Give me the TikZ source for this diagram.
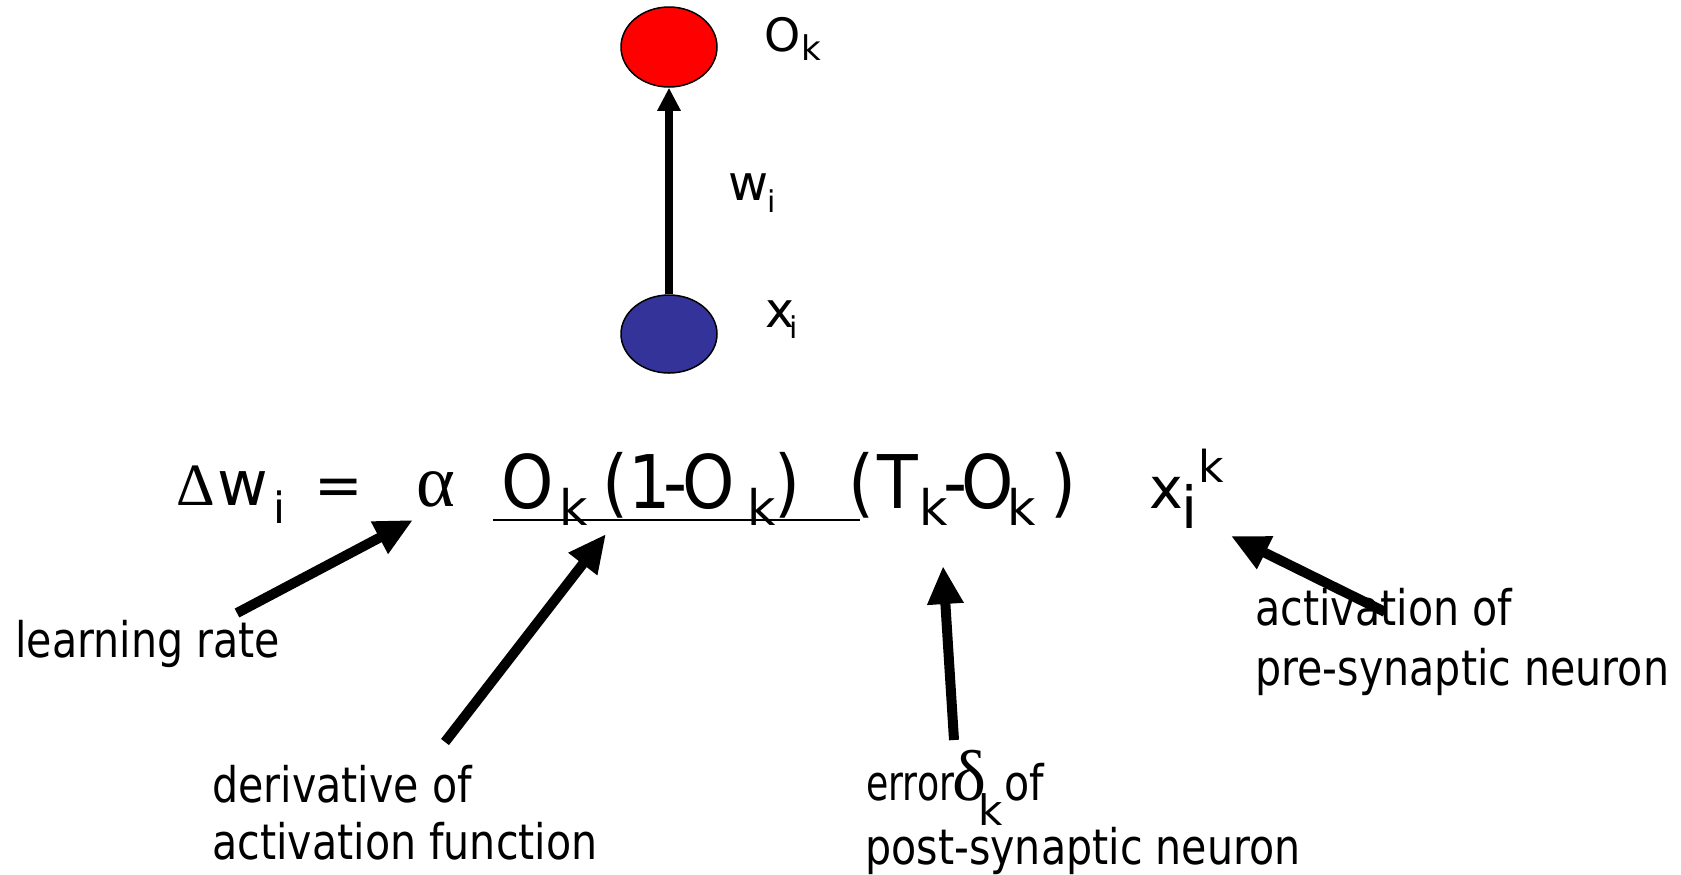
\documentclass[tikz,border=0pt]{standalone}
\usepackage{fontspec}
\setmainfont{DejaVu Sans}
\newfontfamily\lblfont{DejaVu Sans}[FakeStretch=0.84]
\newfontfamily\narrowfont{DejaVu Sans}[FakeStretch=0.74]
\newfontfamily\eqfont{DejaVu Sans}[FakeStretch=0.9]
\newfontfamily\grkfont{Liberation Serif}
\usetikzlibrary{arrows.meta,shapes.geometric}
\definecolor{nred}{HTML}{FF0000}
\definecolor{nblue}{HTML}{333399}
\begin{document}
\begin{tikzpicture}[x=0.5pt,y=-0.5pt,
  lbl/.style={inner sep=0pt, anchor=base west, font={\lblfont\fontsize{24.5}{29}\selectfont}},
  glyph/.style={inner sep=0pt, anchor=base},
  big/.style={glyph, font={\eqfont\fontsize{37}{44}\selectfont}},
  neuron/.style={ellipse, draw=black, line width=0.75pt, inner sep=0pt, minimum width=48pt},
  fat/.style={line width=5pt, -{Triangle[length=19pt,width=17pt]}},
  ds/.style={font={\fontsize{#1}{#1}\selectfont}},
  gs/.style={font={\grkfont\fontsize{#1}{#1}\selectfont}}
]
\useasboundingbox (0,0) rectangle (1681,874);

% neurons
\node[neuron, fill=nred, minimum height=40pt] (ok) at (669,47) {};
\node[neuron, fill=nblue, minimum height=39pt] (xi) at (669,334) {};
\draw[line width=4pt, -{Triangle[length=11.5pt,width=11pt]}] (xi.north) -- (ok.south);

% top labels
\node[glyph, ds=23] (okO) at (782.5,51) {O};
\node[glyph, ds=17] (okk) at (811,60) {k};
\node[glyph, ds=24.5] (wiw) at (749,200) {w};
\node[glyph, ds=15] (wii) at (772,212) {i};
\node[glyph, ds=24.5] (xix) at (779.5,327) {x};
\node[glyph, ds=15] (xii) at (794,338) {i};

% equation, left part
\node[glyph, gs=30] (eD) at (195.5,505) {Δ};
\node[glyph, ds=31] (ew) at (242.5,505) {w};
\node[glyph, ds=21.5] (ewi) at (279,523) {i};
\node[glyph, ds=29] (eeq) at (339,505) {=};
\node[glyph, gs=37] (ealpha) at (436,506) {α};

% equation, big part
\node[big] (b1) at (527.5,508) {O};
\node[big] (b2) at (615,508) {(};
\node[big] (b3) at (650,508) {1};
\node[big] (b4) at (676,508) {-};
\node[big] (b5) at (708.5,508) {O};
\node[big] (b6) at (787,508) {)};
\node[big] (b7) at (861,508) {(};
\node[big] (b8) at (897.5,508) {T};
\node[big] (b9) at (956,508) {-};
\node[big] (b10) at (987.5,508) {O};
\node[big] (b11) at (1063,508) {)};
\node[glyph, ds=24.5] (s1) at (573.5,525) {k};
\node[glyph, ds=24.5] (s2) at (761.5,525) {k};
\node[glyph, ds=24.5] (s3) at (934,525) {k};
\node[glyph, ds=24.5] (s4) at (1021.5,525) {k};
\node[glyph, ds=28.5] (ex) at (1166.5,508) {x};
\node[glyph, ds=29] (exi) at (1190,528) {i};
\node[glyph, ds=22] (exk) at (1211,482) {k};
\draw[line width=1pt] (493,520) -- (860,520);

% labels
\node[lbl] (lr) at (15,657) {learning rate};
\node[lbl] (dv1) at (212,802) {derivative of};
\node[lbl] (dv2) at (212,859) {activation function};
\node[lbl, font={\narrowfont\fontsize{24.5}{29}\selectfont}] (er1) at (866,800) {error};
\node[glyph, gs=36] (erd) at (969,800) {δ};
\node[glyph, ds=21] (erk) at (991,825) {k};
\node[lbl] (erof) at (1004,800) {of};
\node[lbl] (er2) at (865,864) {post-synaptic neuron};
\node[lbl] (ac1) at (1255,625) {activation of};
\node[lbl] (ac2) at (1255,685) {pre-synaptic neuron};

% arrows
\coordinate (lrT) at (237,613);  \coordinate (lrH) at (413,520);
\coordinate (dvT) at (445,742);  \coordinate (dvH) at (606,534);
\coordinate (erT) at (954,740);  \coordinate (erH) at (943,566);
\coordinate (acT) at (1385,612); \coordinate (acH) at (1231,536);
\draw[fat] (lrT) -- (lrH);
\draw[fat] (dvT) -- (dvH);
\draw[fat] (erT) -- (erH);
\draw[fat] (acT) -- (acH);
\end{tikzpicture}
\end{document}
